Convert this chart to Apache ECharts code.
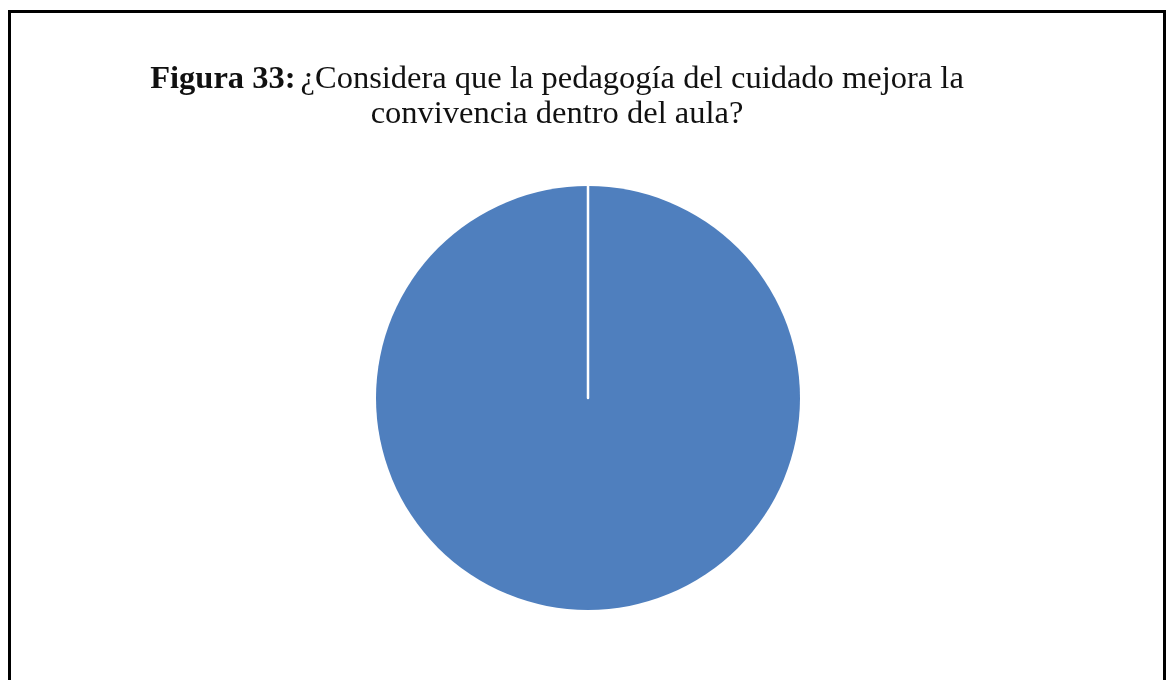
<!DOCTYPE html>
<html>
<head>
<meta charset="utf-8">
<script src="https://cdn.jsdelivr.net/npm/echarts@6/dist/echarts.min.js"></script>
<style>
  html, body { margin: 0; padding: 0; background: #ffffff; }
  #chart { width: 1167px; height: 680px; }
</style>
</head>
<body>
<div id="chart"></div>
<script>
const titleBold = 'Figura 33:';
const titleLine1 = '¿Considera que la pedagogía del cuidado mejora la';
const titleLine2 = 'convivencia dentro del aula?';
const categories = ['Sí', 'No'];
const values = [100, 0];
const colors = ['#4F7FBE', '#C0504D'];

const chart = echarts.init(document.getElementById('chart'));
chart.setOption({
  backgroundColor: '#ffffff',
  animation: false,
  title: {
    text: '{b|' + titleBold + '} {n|' + titleLine1 + '}\n{n|' + titleLine2 + '}',
    left: 552,
    top: 57,
    textAlign: 'center',
    textStyle: {
      rich: {
        b: { fontFamily: 'Liberation Serif', fontWeight: 'bold', fontSize: 32.5, color: '#111', lineHeight: 35 },
        n: { fontFamily: 'Liberation Serif', fontWeight: 'normal', fontSize: 32.5, color: '#111', lineHeight: 35 }
      }
    }
  },
  graphic: [{
    type: 'rect',
    shape: { x: 9.5, y: 11.5, width: 1155, height: 700 },
    style: { fill: 'none', stroke: '#000', lineWidth: 3 },
    silent: true
  }],
  series: [{
    type: 'pie',
    center: [588, 398],
    radius: [0, 212],
    startAngle: 90,
    clockwise: true,
    label: { show: false },
    labelLine: { show: false },
    emphasis: { disabled: true },
    data: categories.map((c, i) => ({
      name: c,
      value: values[i],
      itemStyle: {
        color: colors[i],
        borderColor: '#ffffff',
        borderWidth: i === 0 ? 0 : 2.5
      }
    }))
  }]
});
</script>
</body>
</html>
